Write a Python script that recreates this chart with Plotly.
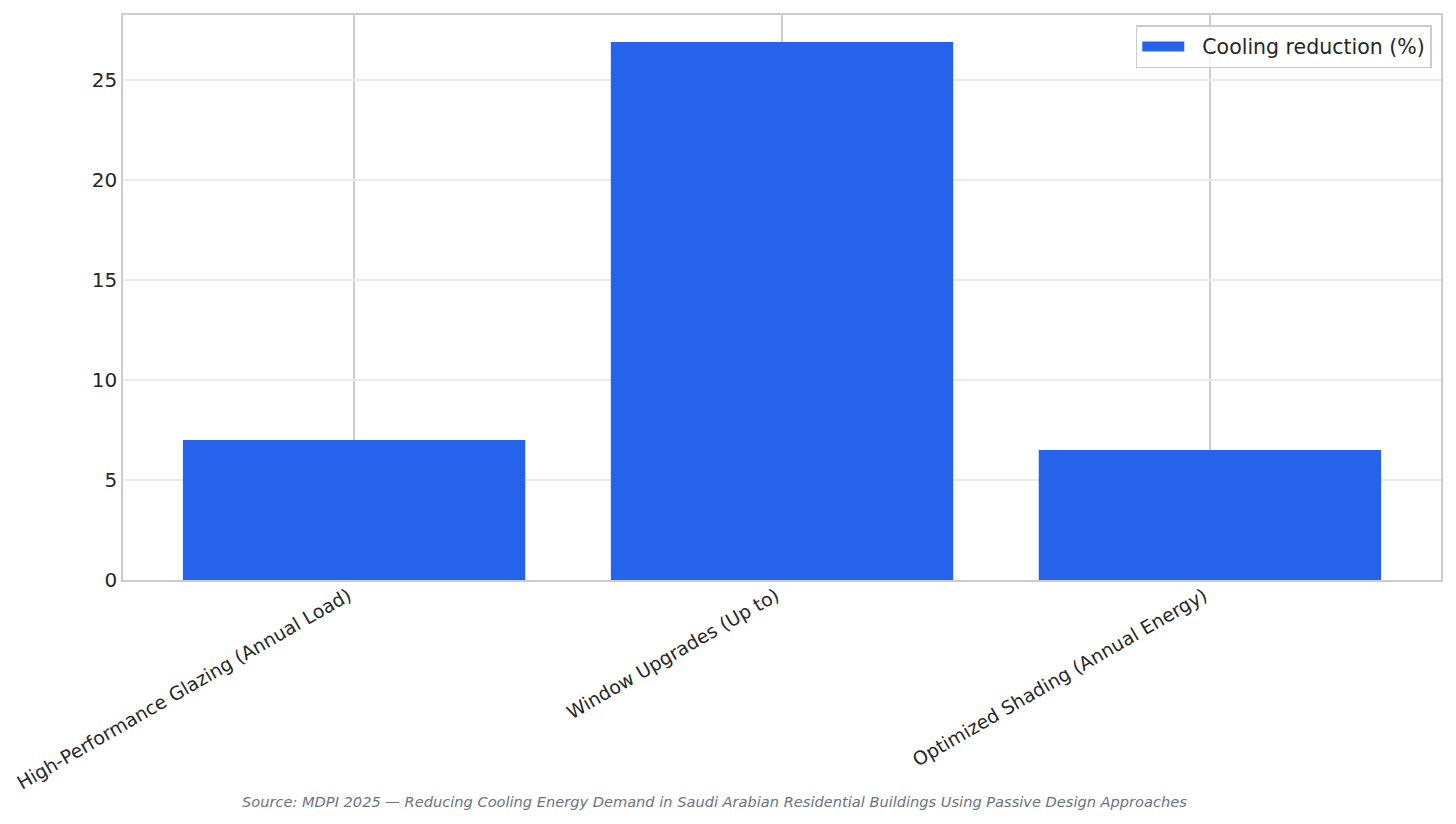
import plotly.graph_objects as go

categories = [
    "High-Performance Glazing (Annual Load)",
    "Window Upgrades (Up to)",
    "Optimized Shading (Annual Energy)",
]
cooling_reduction = [7.0, 26.9, 6.5]
y_ticks = [0, 5, 10, 15, 20, 25]
series_name = "Cooling reduction (%)"
bar_color = "#2563eb"

source_text = (
    "Source: MDPI 2025 \u2014 Reducing Cooling Energy Demand in Saudi Arabian "
    "Residential Buildings Using Passive Design Approaches"
)

fig = go.Figure()
fig.add_trace(
    go.Bar(
        x=list(range(len(categories))),
        y=cooling_reduction,
        width=0.8,
        name=series_name,
        marker=dict(color=bar_color, line=dict(width=0)),
        showlegend=False,
    )
)
# legend-only entry so the key is a wide patch like the original
fig.add_trace(
    go.Scatter(
        x=[None],
        y=[None],
        mode="lines",
        name="\u00a0\u00a0" + series_name,
        line=dict(color=bar_color, width=14),
        hoverinfo="skip",
    )
)

frame = "#cccccc"
fig.update_layout(
    width=1456,
    height=824,
    margin=dict(l=123, r=15, t=15, b=244),
    paper_bgcolor="white",
    plot_bgcolor="white",
    font=dict(family="DejaVu Sans", color="#262626"),
    showlegend=True,
    legend=dict(
        x=0.993,
        y=0.982,
        xanchor="right",
        yanchor="top",
        bordercolor=frame,
        borderwidth=1.5,
        bgcolor="rgba(255,255,255,0.8)",
        itemwidth=42,
        font=dict(size=20.5, family="DejaVu Sans", color="#262626"),
    ),
    xaxis=dict(
        range=[-0.54, 2.54],
        tickmode="array",
        tickvals=list(range(len(categories))),
        ticktext=categories,
        tickangle=-30,
        tickfont=dict(size=18.8),
        ticklabelshift=-6,
        ticklabelstandoff=-4,
        showgrid=True,
        gridcolor=frame,
        gridwidth=1.5,
        showline=True,
        linecolor=frame,
        linewidth=1.5,
        mirror=True,
        ticks="",
        zeroline=False,
    ),
    yaxis=dict(
        range=[0, 28.245],
        tickmode="array",
        tickvals=y_ticks,
        tickfont=dict(size=20),
        showgrid=True,
        gridcolor="#ebebeb",
        gridwidth=1.5,
        showline=True,
        linecolor=frame,
        linewidth=1.5,
        mirror=True,
        ticks="",
        zeroline=False,
    ),
    annotations=[
        dict(
            text="<i>" + source_text + "</i>",
            xref="paper",
            yref="paper",
            x=(714 - 123) / (1441 - 123),
            y=0,
            yanchor="middle",
            yshift=-221,
            showarrow=False,
            font=dict(family="DejaVu Sans", size=14.6, color="#6b7280"),
        )
    ],
)

# drop the browser's default 8px body margin so the figure sits at 0,0
fig.write_html(
    "out.html",
    config={"displayModeBar": False},
    post_script="document.body.style.margin='0';",
)
